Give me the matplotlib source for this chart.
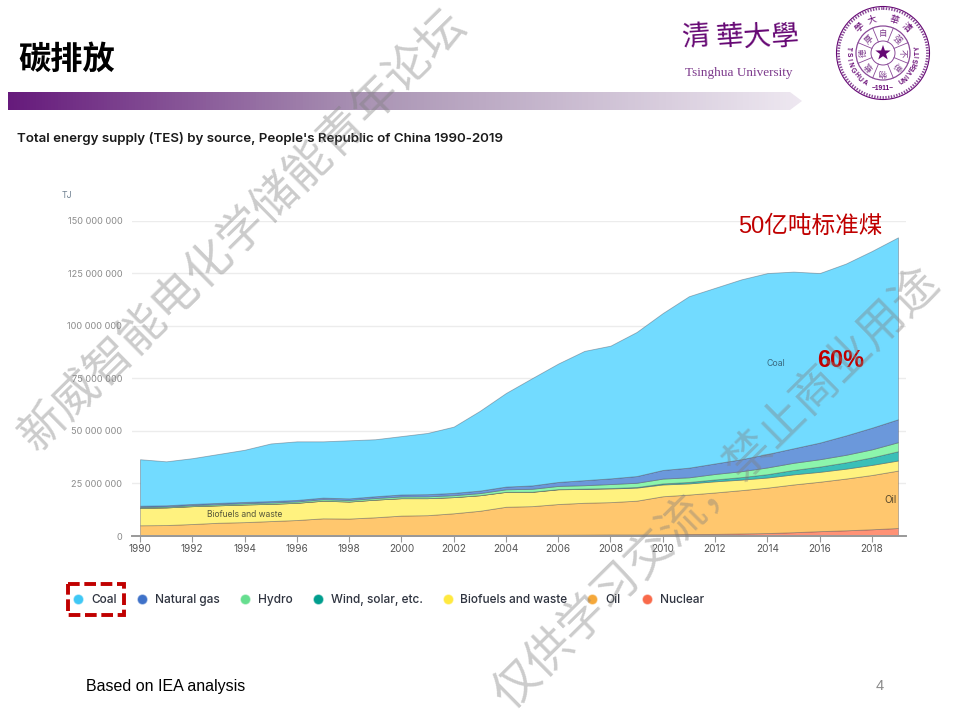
import numpy as np
import matplotlib
matplotlib.use("Agg")
import matplotlib.pyplot as plt
from matplotlib.colors import LinearSegmentedColormap
from matplotlib.patches import Polygon, Circle, Rectangle

CJK = ['Noto Sans CJK SC', 'DejaVu Sans']
plt.rcParams['font.family'] = CJK

years = list(range(1990, 2020))
nuclear = [0.05,0.05,0.05,0.05,0.05,0.05,0.1,0.1,0.15,0.15,0.2,0.2,0.3,0.45,0.55,0.55,0.6,0.65,0.75,0.75,0.8,0.95,1.0,1.2,1.4,1.8,2.3,2.7,3.2,3.8]
oil = [5.05,5.15,5.65,6.25,6.55,7.05,7.5,8.3,8.15,8.75,9.5,9.7,10.5,11.55,13.35,13.65,14.6,15.15,15.35,16.05,18.1,18.75,19.7,20.6,21.6,22.7,23.5,24.6,25.8,27.3]
biofuels = [8.3,8.4,8.5,8.3,8.4,8.2,8.2,8.4,8.1,8.4,8.3,8.1,7.7,7.4,7.1,6.8,7.0,6.6,6.5,6.2,5.6,5.3,5.3,5.0,4.8,4.8,4.7,4.7,4.8,4.8]
wind = [0,0,0,0,0,0,0,0,0,0,0,0,0,0,0,0.05,0.1,0.15,0.2,0.3,0.5,0.7,0.9,1.2,1.6,2.1,2.5,3.0,3.6,4.4]
hydro = [0.45,0.45,0.5,0.55,0.6,0.65,0.65,0.7,0.7,0.75,0.8,0.85,0.9,1.0,1.2,1.4,1.5,1.6,1.9,2.0,2.3,2.2,2.6,2.8,3.2,3.4,3.5,3.6,3.8,4.3]
gas = [0.55,0.55,0.55,0.6,0.6,0.65,0.7,0.75,0.8,0.85,0.95,1.05,1.1,1.2,1.3,1.6,1.9,2.4,2.7,3.2,4.1,4.6,5.0,5.7,6.4,6.9,7.9,9.2,10.3,10.9]
coal = [22.1,20.9,21.75,23.25,24.8,27.4,27.85,26.75,27.6,27.1,27.75,29.1,31.5,37.9,44.5,51.0,56.3,61.45,63.1,68.5,74.6,81.5,83.5,85.5,86.0,84.0,80.6,81.7,84.0,86.5]
series_names = ["Coal", "Natural gas", "Hydro", "Wind, solar, etc.", "Biofuels and waste", "Oil", "Nuclear"]
yticks = [0, 25, 50, 75, 100, 125, 150]
ytick_labels = ["0", "25 000 000", "50 000 000", "75 000 000", "100 000 000", "125 000 000", "150 000 000"]
xticks = list(range(1990, 2019, 2))

fills = ["#72DBFF", "#6B98DB", "#8CF5AC", "#3ABFB8", "#FFF27F", "#FFC76E", "#FF9276"]
dots = ["#3FC8F5", "#3F72C9", "#66DE8F", "#009E8E", "#FFE93F", "#F5A83A", "#F96A4A"]
PURPLE = "#660874"
RED = "#C00000"

fig = plt.figure(figsize=(9.6, 7.2), dpi=100, facecolor="white")
L, R, B, T = 132, 905.5, 536, 220.5
ax = fig.add_axes([L/960, (720-B)/720, (R-L)/960, (B-T)/720])
px_per_year = (871.7-140)/28
ax.set_xlim(1990-(140-L)/px_per_year, 2019+(R-898)/px_per_year)
ax.set_ylim(0, 150)
stack = [nuclear, oil, biofuels, wind, hydro, gas, coal]
ax.stackplot(years, stack, colors=fills[::-1], edgecolor=(0.25,0.25,0.3,0.4), linewidth=0.6, zorder=2)
ax.set_yticks(yticks, ytick_labels, fontfamily="Inter", fontsize=6.6, color="#8c8c8c")
ax.set_xticks(xticks, xticks, fontfamily="Inter", fontsize=7.2, color="#555555")
ax.tick_params(axis="y", length=0, pad=7)
ax.tick_params(axis="x", length=4, width=0.8, color="#999999", pad=2)
ax.grid(axis="y", color="#ececec", lw=1, zorder=0)
ax.set_axisbelow(True)
for s in ["top", "left", "right"]:
    ax.spines[s].set_visible(False)
ax.spines["bottom"].set_color("#999999")
ax.spines["bottom"].set_linewidth(1.4)
ax.text(1992.56, 10, "Biofuels and waste", ha="left", va="center", fontsize=6.1, fontfamily="Inter", color="#55553a", zorder=3)
ax.text(2014.34, 82, "Coal", ha="center", va="center", fontsize=6.3, fontfamily="Inter", color="#3a6a80", zorder=3)
ax.text(2018.7, 17, "Oil", ha="center", va="center", fontsize=7, fontfamily="Inter", color="#55462a", zorder=3)

ov = fig.add_axes([0, 0, 1, 1], facecolor="none")
ov.set_xlim(0, 960); ov.set_ylim(720, 0); ov.axis("off")

# title and header bar
ov.text(18, 59, "碳排放", fontsize=23.2, fontweight="bold", color="black", ha="left", va="center")
pts = [(8, 92), (790, 92), (802, 101), (790, 110), (8, 110)]
bar_cmap = LinearSegmentedColormap.from_list("bar", [(0, "#661A7C"), (0.45, "#AA94B4"), (1, "#EEE8F1")])
im = ov.imshow(np.linspace(0, 1, 256).reshape(1, -1), cmap=bar_cmap, extent=(8, 802, 110, 92), aspect="auto", zorder=1)
im.set_clip_path(Polygon(pts, transform=ov.transData))
ov.set_xlim(0, 960); ov.set_ylim(720, 0)

ov.text(17, 138.5, "Total energy supply (TES) by source, People's Republic of China 1990-2019",
        fontsize=9.6, fontfamily="Inter", fontweight="semibold", color="#1a1a1a", ha="left", va="center")
ov.text(62, 196, "TJ", fontsize=6.3, fontfamily="Inter", color="#6f8090", ha="left", va="center")

# Tsinghua logotype
for ch, x, y in zip("清華大學", [696, 730, 757, 785], [37, 37, 37, 37]):
    ov.text(x, y, ch, fontsize=20, color=PURPLE, ha="center", va="center", fontfamily=['Noto Sans CJK TC'], fontweight="medium", rotation=4)
ov.text(738.5, 73, "Tsinghua University", fontsize=9.5, color="#7d3a8c", fontfamily="Liberation Serif", ha="center", va="center")

# seal
cx, cy = 883, 53
ov.add_patch(Circle((cx, cy), 46.5, fc="white", ec=PURPLE, lw=0.8, zorder=3))
ov.add_patch(Circle((cx, cy), 44.5, fc="none", ec="#8a4a98", lw=2.0, ls=(0, (0.5, 0.5)), zorder=3))
ov.add_patch(Circle((cx, cy), 27, fc="none", ec="#8a4a98", lw=0.9, zorder=3))
ov.add_patch(Circle((cx, cy), 12, fc="none", ec="#8a4a98", lw=0.7, zorder=3))
rr = [8 if i % 2 == 0 else 3.2 for i in range(10)]
star = [(cx+r*np.cos(np.radians(90+36*i)), cy-r*np.sin(np.radians(90+36*i))) for i, r in enumerate(rr)]
ov.add_patch(Polygon(star, fc=PURPLE, ec="none", zorder=4))
for a in np.arange(0, 360, 45)+22.5:
    ca, sa = np.cos(np.radians(a)), np.sin(np.radians(a))
    ov.plot([cx+12*ca, cx+27*ca], [cy-12*sa, cy-27*sa], color="#8a4a98", lw=0.6, zorder=3)
for ch, a in zip("自强不息物载德厚", [90, 45, 0, -45, -90, -135, 180, 135]):
    ca, sa = np.cos(np.radians(a)), np.sin(np.radians(a))
    ov.text(cx+19.5*ca, cy-19.5*sa, ch, fontsize=6, color="#7d3a8c", ha="center", va="center", rotation=a-90, zorder=4)
for ch, a in zip("學大華清", [132, 108, 72, 48]):
    ca, sa = np.cos(np.radians(a)), np.sin(np.radians(a))
    ov.text(cx+35*ca, cy-35*sa, ch, fontsize=6.5, color=PURPLE, ha="center", va="center", rotation=a-90, zorder=4, fontfamily=['Noto Sans CJK TC'])
for ch, a in zip("TSINGHUA", np.linspace(172, 238, 8)):
    ca, sa = np.cos(np.radians(a)), np.sin(np.radians(a))
    ov.text(cx+35*ca, cy-35*sa, ch, fontsize=4.8, color=PURPLE, ha="center", va="center", rotation=a+90, zorder=4, fontfamily="Liberation Sans", fontweight="bold")
for ch, a in zip("UNIVERSITY", np.linspace(-58, 8, 10)):
    ca, sa = np.cos(np.radians(a)), np.sin(np.radians(a))
    ov.text(cx+35*ca, cy-35*sa, ch, fontsize=4.8, color=PURPLE, ha="center", va="center", rotation=a+90, zorder=4, fontfamily="Liberation Sans", fontweight="bold")
ov.text(cx, cy+35, "~1911~", fontsize=4.8, color=PURPLE, ha="center", va="center", zorder=4, fontfamily="Liberation Sans", fontweight="bold")

# annotations
ov.text(738, 226.5, "50亿吨标准煤", fontsize=17, color=RED, ha="left", va="center", zorder=6, fontfamily=['Liberation Sans', 'Noto Sans CJK SC'])
ov.text(817, 360.5, "60%", fontsize=16.8, color=RED, fontweight="bold", ha="left", va="center", zorder=6, fontfamily="Liberation Sans")

# legend
dot_x = [78, 142, 245, 318, 448, 592, 647]
txt_x = [91, 155, 258, 331, 460, 605, 660]
for name, dc, dx, tx in zip(series_names, dots, dot_x, txt_x):
    ov.scatter([dx], [599], s=42, color=dc, edgecolors=matplotlib.colors.to_rgba(dc, 0.5), linewidths=1, zorder=5)
    ov.text(tx, 600, name, fontsize=8.55, fontfamily="Inter", fontweight="medium", color="#2f3440", ha="left", va="center", zorder=5)
ov.add_patch(Rectangle((68, 584), 56, 31, fc="none", ec=RED, lw=2.8, ls=(0, (3, 1.2)), zorder=6))

# footer
ov.text(86, 686.5, "Based on IEA analysis", fontsize=11.5, fontfamily="Liberation Sans", color="black", ha="left", va="center")
ov.text(880, 686.5, "4", fontsize=10.5, fontfamily="Liberation Sans", color="#8a8a8a", ha="center", va="center")

# watermarks
wm = dict(fontsize=33.6, color="#7f7f7f", alpha=0.4, rotation=44.6, rotation_mode="anchor", ha="center", va="center", zorder=10)
ov.text(243, 231, "新威智能电化学储能青年论坛", **wm)
ov.text(717, 488, "仅供学习交流，禁止商业用途", **wm)

fig.savefig("out.png", dpi=100)
